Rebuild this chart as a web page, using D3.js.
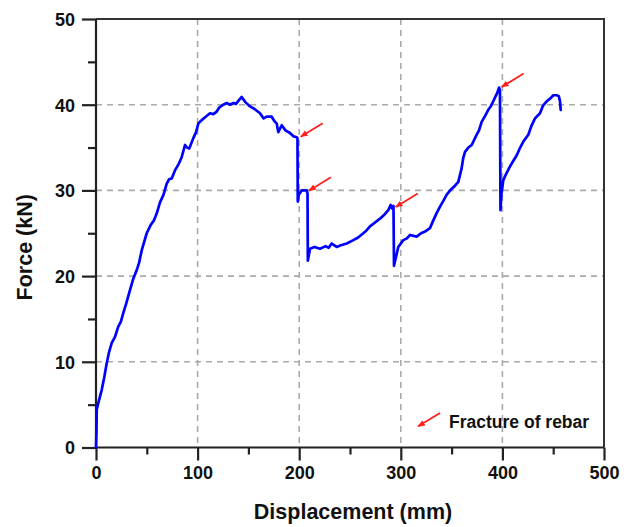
<!DOCTYPE html>
<html>
<head>
<meta charset="utf-8">
<script src="https://cdn.jsdelivr.net/npm/d3@7"></script>
<style>
  html, body { margin: 0; padding: 0; background: #fff; }
  svg text { font-family: "Liberation Sans", Arial, sans-serif; font-weight: bold; fill: #111; }
</style>
</head>
<body>
<svg id="chart" width="633" height="527"></svg>
<script>
// Load–displacement response (displacement in mm, force in kN)
const displacement = [
  0, 0.5, 0.7, 2.3, 5.6, 8.0, 10.5, 13.0, 15.5, 18.7, 21.9, 24.5, 26.9, 30.0, 33.5, 36.7, 40.1, 42.5, 45.0, 49.9,
  54.0, 57.0, 59.7, 63.0, 66.5, 69.6, 72.0, 74.5, 78.0, 81.5, 84.4, 87.6, 89.5, 91.8, 95.8, 98.5, 100.7, 104.0, 108.0, 112.2, 115.5, 118.8, 121.5, 125.3, 128.6,
  132.0, 135.1, 137.8, 140.5, 143.4, 147.0, 151.6, 156.0, 161.4, 165.0, 168.0, 172.9, 175.5, 177.9, 179.4, 182.8, 186.5, 190.9, 194.5, 197.6,
  198.3, 198.6, 199.5, 202.5, 207.5, 208.2, 208.5, 210.6, 215.0, 220.5, 226.0, 229.0, 232.0, 236.9, 241.0, 246.8,
  253.3, 258.0, 263.1, 266.0, 269.7, 274.0, 279.5, 284.0, 287.7, 290.0, 291.5, 292.8, 293.3, 297.5, 302.5, 306.0, 309.1,
  315.6, 320.0, 323.8, 328.7, 332.0, 335.5, 338.6, 342.0, 345.2, 350.1, 353.0, 356.6, 359.9, 361.5, 363.2, 366.5, 369.8, 374.7,
  377.0, 379.6, 383.0, 386.1, 388.5, 391.0, 395.0, 396.7, 397.6, 398.1, 399.0, 400.9, 404.0, 407.5, 410.5, 414.1, 417.5, 420.6, 425.5,
  428.5, 432.1, 437.0, 440.0, 443.6, 447.0, 450.1, 453.5, 455.5, 456.7, 457.4
];
const force = [
  0, 2.0, 4.4, 5.2, 6.7, 8.1, 9.8, 11.2, 12.2, 12.9, 14.1, 14.7, 15.7, 16.9, 18.4, 19.7, 20.7, 21.6, 23.0, 25.0,
  26.0, 26.5, 27.3, 28.6, 29.5, 30.8, 31.3, 31.4, 32.4, 33.1, 33.9, 35.3, 35.0, 34.9, 36.1, 36.8, 37.8, 38.2, 38.6, 39.0, 38.9, 39.2, 39.7, 40.0, 40.2,
  40.0, 40.2, 40.1, 40.5, 40.9, 40.3, 39.8, 39.5, 39.0, 38.4, 38.6, 38.6, 38.1, 37.8, 36.8, 37.6, 37.0, 36.7, 36.3, 36.2,
  36.1, 28.7, 29.5, 30.0, 30.0, 29.6, 21.8, 23.2, 23.4, 23.2, 23.5, 23.3, 23.8, 23.4, 23.6, 23.8,
  24.2, 24.5, 25.0, 25.3, 25.8, 26.2, 26.7, 27.2, 27.7, 28.3, 27.9, 28.2, 21.2, 23.4, 24.2, 24.4, 24.8,
  24.6, 25.0, 25.2, 25.6, 26.5, 27.4, 28.1, 28.8, 29.5, 30.2, 30.5, 31.0, 32.6, 33.8, 34.5, 35.0, 35.3, 36.5,
  37.0, 38.0, 38.7, 39.4, 39.8, 40.4, 41.4, 42.0, 41.7, 27.7, 29.5, 31.2, 32.0, 32.8, 33.4, 34.1, 35.0, 35.7, 36.5,
  37.5, 38.4, 39.0, 39.9, 40.4, 40.7, 41.1, 41.1, 41.0, 40.4, 39.4
];

// Points where a rebar fractured
const fractureX = [200.5, 208.6, 294.0, 398.3];
const fractureY = [36.2, 29.9, 28.0, 42.0];

// Axis ticks
const xTicks = [0, 100, 200, 300, 400, 500];
const xMinorTicks = [50, 150, 250, 350, 450];
const yTicks = [0, 10, 20, 30, 40, 50];
const yMinorTicks = [5, 15, 25, 35, 45];

const margin = { left: 96, top: 19, right: 29, bottom: 79.5 };
const W = 633, H = 527;
const iw = W - margin.left - margin.right;
const ih = H - margin.top - margin.bottom;

const svg = d3.select("#chart");
const g = svg.append("g").attr("transform", `translate(${margin.left},${margin.top})`);

const x = d3.scaleLinear().domain([0, 500]).range([0, iw]);
const y = d3.scaleLinear().domain([0, 50]).range([ih, 0]);

// Dashed grid
const gridColor = "#aaaaaa";
g.append("g").selectAll("line").data(xTicks.slice(1, -1)).join("line")
  .attr("x1", d => x(d)).attr("x2", d => x(d)).attr("y1", 0).attr("y2", ih)
  .attr("stroke", gridColor).attr("stroke-width", 1.6).attr("stroke-dasharray", "6,5");
g.append("g").selectAll("line").data(yTicks.slice(1, -1)).join("line")
  .attr("x1", 0).attr("x2", iw).attr("y1", d => y(d)).attr("y2", d => y(d))
  .attr("stroke", gridColor).attr("stroke-width", 1.6).attr("stroke-dasharray", "6,5");

// Frame (top and right)
g.append("path")
  .attr("d", `M0,0H${iw}V${ih}`)
  .attr("fill", "none").attr("stroke", "#333").attr("stroke-width", 2);

// Axes
const xAxis = g.append("g").attr("transform", `translate(0,${ih})`)
  .call(d3.axisBottom(x).tickValues(xTicks).tickSize(13).tickPadding(6).tickFormat(d3.format("d")));
g.append("g").attr("transform", `translate(0,${ih})`)
  .call(d3.axisBottom(x).tickValues(xMinorTicks).tickSize(7).tickFormat(""))
  .call(a => a.select(".domain").remove());
const yAxis = g.append("g")
  .call(d3.axisLeft(y).tickValues(yTicks).tickSize(14).tickPadding(7).tickFormat(d3.format("d")));
g.append("g")
  .call(d3.axisLeft(y).tickValues(yMinorTicks).tickSize(8).tickFormat(""))
  .call(a => a.select(".domain").remove());

g.selectAll(".domain").attr("stroke", "#222").attr("stroke-width", 2.2);
g.selectAll(".tick line").attr("stroke", "#222").attr("stroke-width", 2.2);
xAxis.selectAll(".tick text").attr("font-size", 18).attr("fill", "#111");
yAxis.selectAll(".tick text").attr("font-size", 18).attr("fill", "#111").attr("dy", "0.36em");
xAxis.select(".domain").attr("d", `M0,0H${iw}`);
yAxis.select(".domain").attr("d", `M0,${ih}V0`);

// Force–displacement curve
const pts = displacement.map((d, i) => [d, force[i]]);
const line = d3.line().x(d => x(d[0])).y(d => y(d[1]));
g.append("path").datum(pts)
  .attr("d", line)
  .attr("fill", "none").attr("stroke", "#0000ff").attr("stroke-width", 2.7)
  .attr("stroke-linejoin", "round").attr("stroke-linecap", "round");

// Red fracture arrows
const defs = svg.append("defs");
defs.append("marker").attr("id", "head")
  .attr("viewBox", "0 0 10 10").attr("refX", 9).attr("refY", 5)
  .attr("markerWidth", 4.2).attr("markerHeight", 4.2).attr("markerUnits", "strokeWidth")
  .attr("orient", "auto")
  .append("path").attr("d", "M0,1L10,5L0,9Z").attr("fill", "#ff2020");

const arrowDx = 23, arrowDy = -14;
g.append("g").selectAll("line").data(fractureX.map((d, i) => [d, fractureY[i]])).join("line")
  .attr("x1", d => x(d[0]) + arrowDx).attr("y1", d => y(d[1]) + arrowDy)
  .attr("x2", d => x(d[0]) + 1).attr("y2", d => y(d[1]) - 0.6)
  .attr("stroke", "#ff2020").attr("stroke-width", 1.8)
  .attr("marker-end", "url(#head)");

// Legend
const lg = g.append("g").attr("transform", `translate(${x(316)},${y(2.4)})`);
lg.append("line")
  .attr("x1", arrowDx).attr("y1", arrowDy).attr("x2", 1).attr("y2", -0.6)
  .attr("stroke", "#ff2020").attr("stroke-width", 1.8)
  .attr("marker-end", "url(#head)");
lg.append("text").attr("x", 32).attr("y", 1.5).attr("font-size", 17.5)
  .text("Fracture of rebar");

// Axis titles
svg.append("text").attr("x", margin.left + iw / 2 + 3).attr("y", 519)
  .attr("text-anchor", "middle").attr("font-size", 21.5)
  .text("Displacement (mm)");
svg.append("text")
  .attr("transform", `translate(32,${margin.top + ih / 2 + 14}) rotate(-90)`)
  .attr("text-anchor", "middle").attr("font-size", 21.5)
  .text("Force (kN)");
</script>
</body>
</html>
